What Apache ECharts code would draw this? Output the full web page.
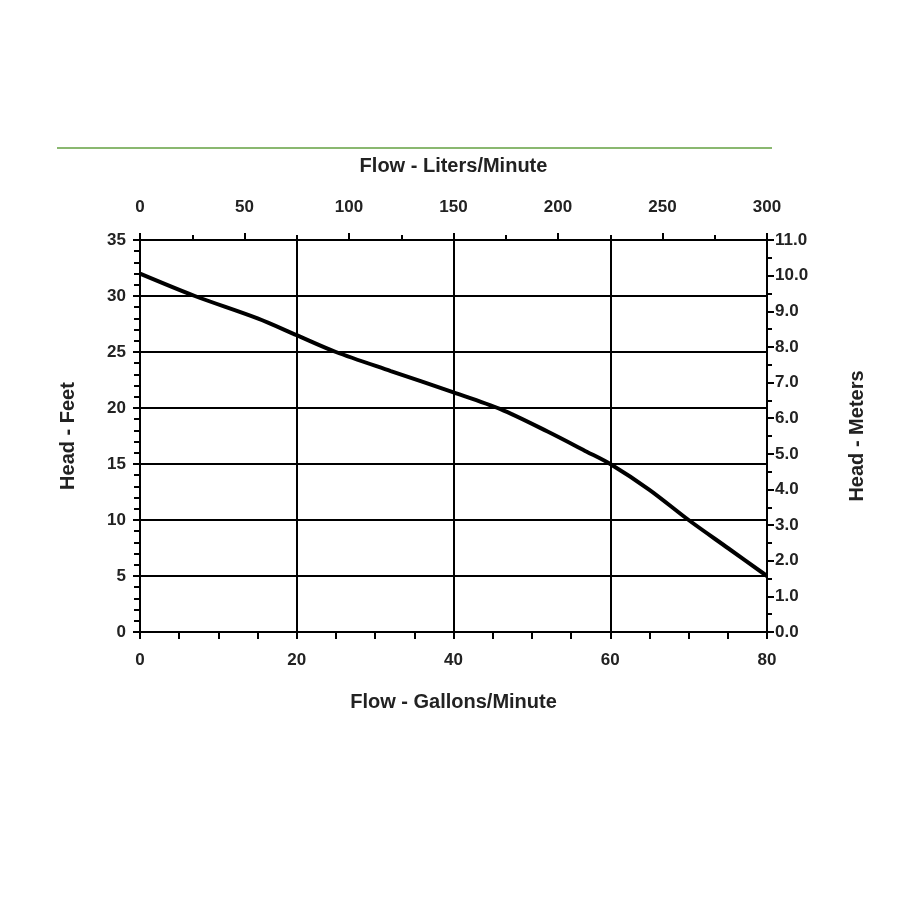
<!DOCTYPE html>
<html>
<head>
<meta charset="utf-8">
<script src="https://cdn.jsdelivr.net/npm/echarts@6/dist/echarts.min.js"></script>
<style>
html,body{margin:0;padding:0;background:#fff;}
#chart{width:900px;height:900px;}
#rule{position:absolute;left:57px;top:147px;width:715px;height:2px;background:#8ab870;}
</style>
</head>
<body>
<div id="rule"></div>
<div id="chart"></div>
<script>
var gpm = [0, 7, 15, 20, 25, 32, 40, 46, 52, 57, 60, 65, 70, 75, 80];
var feet = [32, 30, 28, 26.5, 25, 23.3, 21.4, 19.9, 17.9, 16.1, 15, 12.7, 10, 7.5, 5];

var data = gpm.map(function(g, i) { return [g, feet[i]]; });
var axisLine = { onZero: false, lineStyle: { color: '#000', width: 2 } };
var lbl = { color: '#222', fontSize: 17, fontWeight: 'bold', fontFamily: 'Liberation Sans' };
var nameStyle = { color: '#222', fontSize: 20, fontWeight: 'bold', fontFamily: 'Liberation Sans' };

var myChart = echarts.init(document.getElementById('chart'));
var option = {
	animation: false,
	grid: { left: 140, right: 133, top: 240, bottom: 268 },
	xAxis: [{
		type: 'value', min: 0, max: 80, interval: 20, position: 'bottom',
		name: 'Flow - Gallons/Minute', nameLocation: 'middle', nameGap: 60, nameTextStyle: nameStyle,
		axisLine: axisLine, axisLabel: Object.assign({ margin: 20 }, lbl),
		axisTick: { length: 7, lineStyle: { color: '#000', width: 2 } },
		minorTick: { show: true, splitNumber: 4, length: 7, lineStyle: { color: '#000', width: 2 } },
		splitLine: { show: true, lineStyle: { color: '#000', width: 2 } }
	}, {
		type: 'value', min: 0, max: 300, interval: 50, position: 'top',
		name: 'Flow - Liters/Minute', nameLocation: 'middle', nameGap: 64, nameTextStyle: nameStyle,
		axisLine: axisLine, axisLabel: Object.assign({ margin: 24 }, lbl),
		axisTick: { length: 7, lineStyle: { color: '#000', width: 2 } },
		minorTick: { show: true, splitNumber: 2, length: 5, lineStyle: { color: '#000', width: 2 } },
		splitLine: { show: false }
	}],
	yAxis: [{
		type: 'value', min: 0, max: 35, interval: 5,
		name: 'Head - Feet', nameLocation: 'middle', nameGap: 62, nameTextStyle: nameStyle,
		axisLine: axisLine, axisLabel: Object.assign({ margin: 14 }, lbl),
		axisTick: { length: 7, lineStyle: { color: '#000', width: 2 } },
		minorTick: { show: true, splitNumber: 5, length: 6, lineStyle: { color: '#000', width: 2 } },
		splitLine: { show: true, lineStyle: { color: '#000', width: 2 } }
	}, {
		type: 'value', min: 0, max: 11, interval: 1,
		name: 'Head - Meters', nameLocation: 'middle', nameGap: 80, nameTextStyle: nameStyle,
		axisLine: axisLine,
		axisLabel: Object.assign({ margin: 8, formatter: function(v) { return v.toFixed(1); } }, lbl),
		axisTick: { length: 7, lineStyle: { color: '#000', width: 2 } },
		minorTick: { show: true, splitNumber: 2, length: 5, lineStyle: { color: '#000', width: 2 } },
		splitLine: { show: false }
	}],
	series: [{
		type: 'line', xAxisIndex: 0, yAxisIndex: 0, data: data,
		smooth: 0.3, showSymbol: false,
		lineStyle: { color: '#000', width: 4 }
	}]
};
myChart.setOption(option, true);
</script>
</body>
</html>
